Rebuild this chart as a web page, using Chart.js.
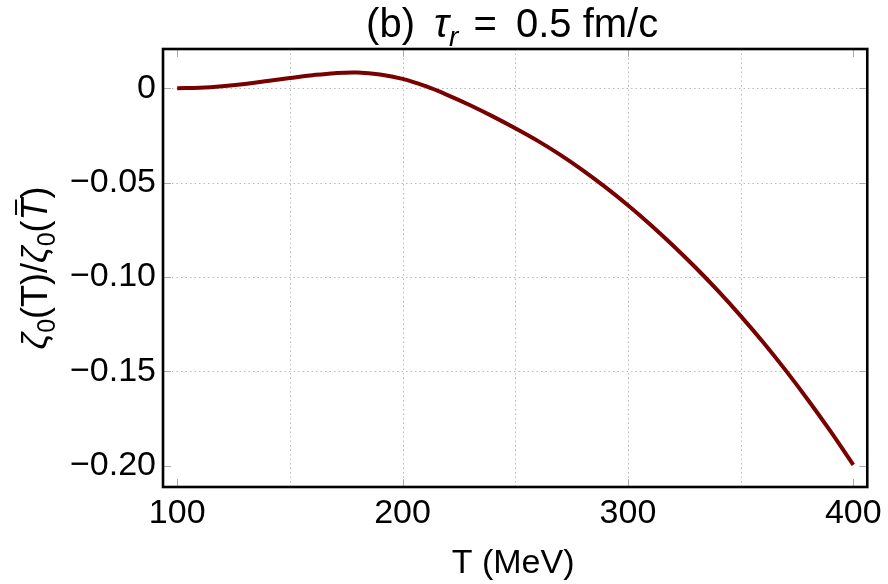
<!DOCTYPE html>
<html>
<head>
<meta charset="utf-8">
<script src="https://cdn.jsdelivr.net/npm/chart.js@4/dist/chart.umd.min.js"></script>
<style>
html,body{margin:0;padding:0;background:#fff;}
#wrap{width:888px;height:584px;}
</style>
</head>
<body>
<div id="wrap"><canvas id="c" width="888" height="584"></canvas></div>
<script>
// ---- data ----
const temps = [100,110,120,130,140,150,160,170,180,190,200,210,220,230,240,250,260,270,280,290,300,310,320,330,340,350,360,370,380,390,400];
const ratio = [0,0.0003,0.0011,0.0023,0.0038,0.0054,0.0069,0.0080,0.0083,0.0073,0.0050,0.0012,-0.0036,-0.0090,-0.0149,-0.0212,-0.0279,-0.0353,-0.0435,-0.0524,-0.0620,-0.0723,-0.0833,-0.0950,-0.1074,-0.1206,-0.1346,-0.1495,-0.1653,-0.1820,-0.1996];
const xTickValues = [100,200,300,400];
const xTickLabels = ['100','200','300','400'];
const xGridValues = [150,200,250,300,350];
const yTickValues = [0,-0.05,-0.10,-0.15,-0.20];
const yTickLabels = ['0','\u22120.05','\u22120.10','\u22120.15','\u22120.20'];
const yGridValues = [0,-0.05,-0.10,-0.15];
const titleParts = [{t:'(b) '},{t:'\u03C4',it:true,gap:8},{t:'r',it:true,sub:true},{t:' = ',gap:4},{t:'0.5 fm/c',gap:8}];
const xTitle = 'T (MeV)';
const yTitleParts = [{t:'\u03B6',it:true},{t:'0',sub:true},{t:'(T)/'},{t:'\u03B6',it:true},{t:'0',sub:true},{t:'('},{t:'T',it:true,bar:true},{t:')'}];

const FONT = '"Liberation Sans", Arial, sans-serif';
const FS = 34;

function partFont(p,size){return (p.it?'italic ':'') + (p.sub? Math.round(size*0.7):size) + 'px ' + FONT;}
function drawRich(ctx, parts, cx, baseY, size){
  const widths = parts.map(p=>{ctx.font = partFont(p,size); return ctx.measureText(p.t).width;});
  const total = widths.reduce((a,b)=>a+b,0) + parts.reduce((a,p)=>a+(p.gap||0),0);
  let x = cx - total/2;
  parts.forEach((p,i)=>{
    x += (p.gap||0);
    ctx.font = partFont(p,size);
    const y = p.sub ? baseY + size*0.22 : baseY;
    ctx.fillText(p.t, x, y);
    if(p.bar){
      ctx.save();
      ctx.lineWidth = 2;
      ctx.strokeStyle = '#000';
      ctx.beginPath();
      ctx.moveTo(x + widths[i]*0.25, baseY - size*0.86);
      ctx.lineTo(x + widths[i]*0.95, baseY - size*0.86);
      ctx.stroke();
      ctx.restore();
    }
    x += widths[i];
  });
}

const decor = {
  id:'decor',
  beforeDatasetsDraw(chart){
    const {ctx, chartArea:a, scales:{x,y}} = chart;
    ctx.save();
    ctx.strokeStyle = '#b8b8b8';
    ctx.lineWidth = 1;
    ctx.setLineDash([1.5,3]);
    xGridValues.forEach(v=>{
      const px = Math.round(x.getPixelForValue(v))+0.5;
      ctx.beginPath(); ctx.moveTo(px,a.top); ctx.lineTo(px,a.bottom); ctx.stroke();
    });
    yGridValues.forEach(v=>{
      const py = Math.round(y.getPixelForValue(v))+0.5;
      ctx.beginPath(); ctx.moveTo(a.left,py); ctx.lineTo(a.right,py); ctx.stroke();
    });
    ctx.setLineDash([]);
    ctx.strokeStyle = '#aaaaaa';
    xTickValues.forEach(v=>{
      const px = Math.round(x.getPixelForValue(v))+0.5;
      ctx.beginPath(); ctx.moveTo(px,a.bottom); ctx.lineTo(px,a.bottom-8); ctx.stroke();
      ctx.beginPath(); ctx.moveTo(px,a.top); ctx.lineTo(px,a.top+8); ctx.stroke();
    });
    yTickValues.forEach(v=>{
      const py = Math.round(y.getPixelForValue(v))+0.5;
      ctx.beginPath(); ctx.moveTo(a.left,py); ctx.lineTo(a.left+8,py); ctx.stroke();
      ctx.beginPath(); ctx.moveTo(a.right,py); ctx.lineTo(a.right-8,py); ctx.stroke();
    });
    ctx.restore();
  },
  afterDraw(chart){
    const {ctx, chartArea:a} = chart;
    ctx.save();
    ctx.strokeStyle = '#000';
    ctx.lineWidth = 2.6;
    ctx.strokeRect(a.left, a.top, a.right-a.left, a.bottom-a.top);
    ctx.fillStyle = '#000';
    ctx.textBaseline = 'alphabetic';
    // main title
    drawRich(ctx, titleParts, (a.left+a.right)/2 - 3, 37, 40);
    // x title
    ctx.font = FS + 'px ' + FONT;
    ctx.textAlign = 'center';
    ctx.fillText(xTitle, (a.left+a.right)/2 - 2, 573);
    ctx.textAlign = 'left';
    // y title
    ctx.translate(47, (a.top+a.bottom)/2);
    ctx.rotate(-Math.PI/2);
    drawRich(ctx, yTitleParts, 0, 0, 36);
    ctx.restore();
  }
};

new Chart(document.getElementById('c'), {
  type:'line',
  data:{
    datasets:[{
      data: temps.map((t,i)=>({x:t, y:ratio[i]})),
      borderColor:'#780000',
      borderWidth:4,
      pointRadius:0,
      fill:false,
      tension:0.4,
      borderCapStyle:'butt'
    }]
  },
  options:{
    responsive:false,
    animation:false,
    devicePixelRatio:1,
    layout:{padding:{top:49,right:17,bottom:0,left:0}},
    plugins:{legend:{display:false},tooltip:{enabled:false},title:{display:false}},
    scales:{
      x:{
        type:'linear', min:93.7, max:406.2,
        grid:{display:false, drawTicks:false},
        border:{display:false},
        ticks:{color:'#000', font:{size:FS, family:FONT}, padding:6, maxRotation:0,
          callback:(v)=>{const i=xTickValues.indexOf(v); return i>=0?xTickLabels[i]:'';}},
        afterBuildTicks:(s)=>{s.ticks = xTickValues.map(v=>({value:v}));},
        afterFit:(s)=>{s.height = 97;}
      },
      y:{
        type:'linear', min:-0.2113, max:0.0208,
        grid:{display:false, drawTicks:false},
        border:{display:false},
        ticks:{color:'#000', font:{size:FS, family:FONT}, padding:7,
          callback:(v)=>{const i=yTickValues.findIndex(t=>Math.abs(t-v)<1e-9); return i>=0?yTickLabels[i]:'';}},
        afterBuildTicks:(s)=>{s.ticks = yTickValues.map(v=>({value:v}));},
        afterFit:(s)=>{s.width = 163;}
      }
    }
  },
  plugins:[decor]
});
</script>
</body>
</html>
